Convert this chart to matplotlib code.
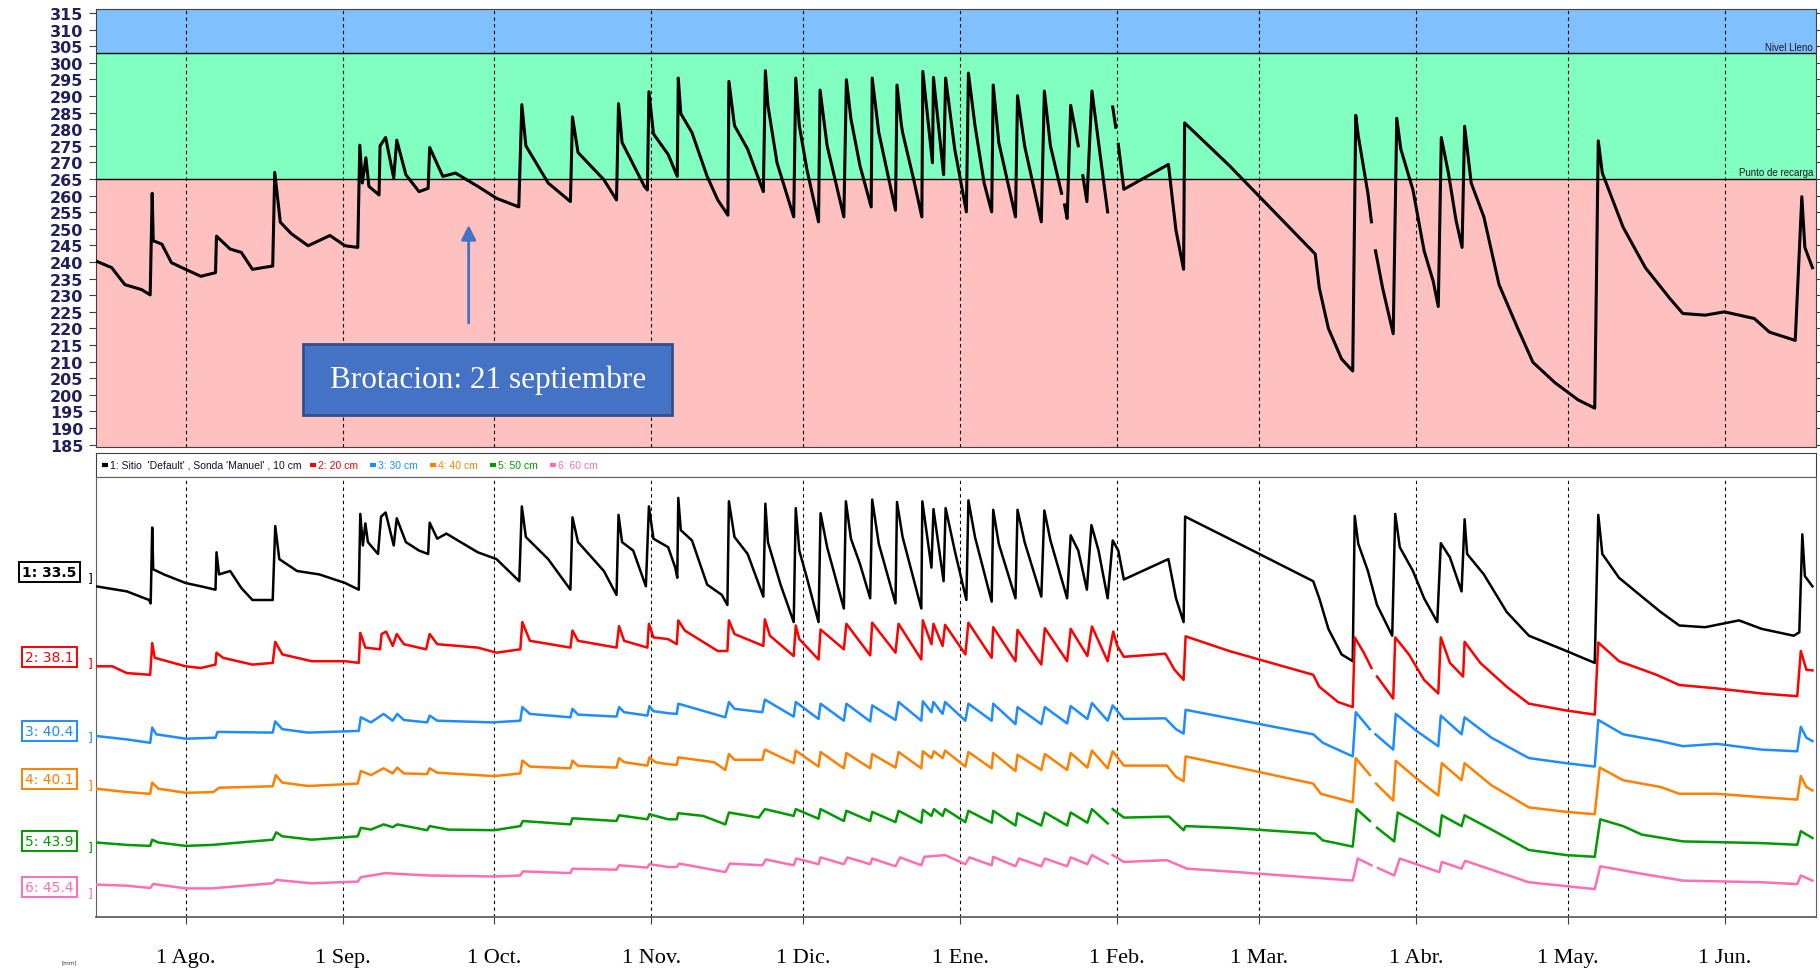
import numpy as np
import matplotlib
matplotlib.use("Agg")
import matplotlib.pyplot as plt
import matplotlib.transforms as mtransforms
from matplotlib.patches import Rectangle

nan = np.nan

# eje x: dias desde el 1 de agosto
MONTH_DAYS = [0, 31, 61, 92, 122, 153, 184, 212, 243, 273, 304]
MONTH_LABELS = ["1 Ago.", "1 Sep.", "1 Oct.", "1 Nov.", "1 Dic.", "1 Ene.",
                "1 Feb.", "1 Mar.", "1 Abr.", "1 May.", "1 Jun."]
X_START, X_END = -17.7, 322.0

# panel superior: suma de sensores
Y_MIN, Y_MAX = 184.3, 316.2
Y_TICKS = list(range(185, 316, 5))
NIVEL_LLENO = 302.8
PUNTO_RECARGA = 265.0

TOP = np.array([
    (-17.7, 240.3), (-14.6, 238.3), (-12, 233.2), (-8.7, 231.7), (-7, 230.1), (-6.6, 260.7),
    (-6.4, 246.4), (-4.7, 245.4), (-2.8, 239.8), (0, 237.8), (3, 235.7), (5.9, 236.8),
    (6.1, 247.8), (8.8, 243.9), (11, 242.9), (13.2, 237.8), (17.2, 238.8), (17.6, 267),
    (18.7, 252), (20.9, 248.5), (24.2, 244.9), (28.5, 248), (31.5, 244.9), (34, 244.4),
    (34.4, 275.2), (34.9, 263.8), (35.6, 271.4), (36.2, 262.8), (38.2, 260.2), (38.4, 275),
    (39.5, 277.5), (41.1, 265.3), (41.7, 276.7), (43.5, 266.3), (46.1, 261.2), (47.9, 262.2),
    (48.2, 274.5), (50.8, 265.8), (53.3, 266.8), (57.7, 262.8), (61.4, 259.2), (65.8, 256.6),
    (66.4, 287.4), (67.2, 275), (71.6, 263.8), (76, 258.2), (76.4, 283.7), (77.5, 273),
    (82.6, 264.8), (85.1, 258.7), (85.5, 287.7), (86.2, 276), (90.6, 262.8), (91.2, 261.7),
    (91.5, 291.3), (92.4, 278.6), (95.3, 272.4), (97.1, 265.8), (97.3, 295.4), (97.8, 284.7),
    (100, 279), (103, 265.8), (105.1, 258.7), (107.1, 254.1), (107.3, 294.4), (108.4, 281.1),
    (111, 274), (114.1, 261.2), (114.5, 297.6), (115, 287.2), (116.8, 269.9), (120.1, 253.6),
    (120.5, 295.4), (121.2, 281.1), (122.7, 267.9), (125, 252.1), (125.3, 291.8), (126.7, 275),
    (130, 253.6), (130.5, 294.9), (131.4, 283.1), (133.2, 268.9), (135.4, 256.6), (135.6, 295.4),
    (136.9, 279), (140.2, 255.6), (140.5, 293.3), (141.3, 282.1), (141.6, 279), (143.8, 264.8),
    (145.4, 253.6), (145.6, 297.4), (147.5, 269.9), (147.7, 295.6), (149.7, 266.3), (150.1, 295.4),
    (151.9, 274), (154.2, 255.1), (154.6, 296.9), (155.9, 281.1), (157.7, 263.8), (159.2, 255.1),
    (159.5, 293.3), (160.6, 276), (163.9, 253.6), (164.3, 290.1), (165.7, 275), (169, 252.1),
    (169.6, 291.5), (170.8, 275), (173, 260.7), (173.3, nan), (173.6, 257.2), (174.1, 253.1),
    (174.8, 287.2), (176.3, 275), (176.8, nan), (177.2, 266), (178, 258.2), (179, 291.5),
    (180.3, 276), (182.1, 255.1), (182.6, nan), (183.1, 286.7), (183.7, 280.6), (183.9, nan),
    (184.2, 275.5), (185.3, 261.9), (194.1, 269.4), (195.6, 249.5), (197.1, 237.8), (197.3, 281.9),
    (206.1, 269.1), (223.1, 242.4), (223.9, 232.2), (225.7, 220), (228.3, 210.8), (230.5, 207.2),
    (231.1, 284.2), (231.6, 278), (233.5, 260.7), (234.2, 252.1), (234.6, nan), (235, 243.4),
    (236.4, 232.2), (238.5, 218.4), (239.2, 283.3), (240, 274), (242.4, 261.7), (244.6, 243.4),
    (246.4, 234.2), (247.4, 226.6), (248, 277.5), (249.4, 266.8), (250.9, 252.6), (252.1, 244.4),
    (252.6, 280.9), (253.9, 263.8), (256.4, 253.6), (259.4, 233.2), (263.1, 220), (266.1, 209.8),
    (270.5, 203.6), (275, 198.5), (278.3, 196), (279, 276.5), (279.8, 266.8), (283.9, 250.5),
    (288.3, 238.3), (293.1, 229.1), (295.7, 224.5), (300.1, 224), (303.9, 225), (309.8, 223),
    (312.8, 218.9), (317.9, 216.4), (319.2, 259.7), (319.8, 244.4), (321.3, 238.3),
])

# panel inferior: cada sonda en su propia escala (alto en pixeles del grafico)
LOW_MAX = 440
SONDA_1 = np.array([
    (-17.7, 330.7), (-11.6, 325.6), (-7.2, 317), (-6.9, 313.6), (-6.6, 389.5), (-6.4, 347.7),
    (-4.3, 342.6), (0, 334), (3, 330.7), (5.9, 327.3), (6.1, 364.7), (6.6, 342.6), (8.8, 346),
    (11, 329), (13.2, 317), (17.2, 317), (17.7, 390.9), (18.5, 357.9), (22, 346), (26.4, 342.6),
    (31.5, 334), (34.2, 327.3), (34.5, 403.1), (35, 371.5), (35.5, 393.6), (36, 374.9), (38, 363),
    (38.6, 400.4), (39.5, 404.5), (41.1, 371.5), (41.7, 398.7), (43.5, 374.9), (46.1, 366.4),
    (47.9, 363), (48.2, 394.3), (49.7, 378.3), (51.5, 383.4), (57.7, 364.7), (61.4, 357.9),
    (65.9, 335.8), (66.4, 410.6), (67.2, 380), (71.6, 357.9), (76, 327.3), (76.4, 399.7),
    (77.5, 374.9), (82.6, 346), (85.1, 322.1), (85.5, 402.1), (86.2, 374.9), (88.4, 366.4),
    (90.9, 330.7), (91.5, 410.6), (92.4, 378.3), (95.3, 369.8), (96.7, 349.4), (97.1, 339.2),
    (97.3, 419.1), (97.8, 386.8), (100, 376.6), (103, 332.4), (105.9, 322.1), (107, 312),
    (107.3, 415.7), (108.4, 380), (111, 363), (114.1, 320.4), (114.5, 413.3), (115, 374.9),
    (117.5, 332.4), (120.1, 294.9), (120.5, 408.9), (121.2, 366.4), (122.7, 339.2), (125, 294.9),
    (125.4, 403.8), (126.7, 369.8), (130, 308.5), (130.4, 415.7), (131.4, 378.3), (133.2, 352.8),
    (135.2, 318.7), (135.6, 417.4), (136.9, 373.2), (140.2, 313.6), (140.5, 415), (141.6, 380),
    (145.3, 308.5), (145.5, 415.7), (147.3, 349.4), (147.7, 407.9), (149.7, 335.8), (150.1, 408.9),
    (151.9, 366.4), (154.2, 317), (154.6, 416.7), (155.9, 380), (159.2, 315.3), (159.5, 407.2),
    (160.6, 373.2), (163.9, 318.7), (164.3, 407.2), (165.7, 374.9), (169, 320.4), (169.6, 406.5),
    (170.8, 376.6), (174.1, 318.7), (174.8, 381.7), (176.3, 366.4), (178, 327.3), (178.9, 391.9),
    (180.3, 366.4), (182.1, 318.7), (183.1, 376.6), (184.2, 366.4), (185.3, 337.5), (194.1, 357.9),
    (195.6, 318.7), (197.1, 294.9), (197.4, 400.4), (206.1, 378.3), (222.7, 335.8), (223.9, 318.7),
    (225.7, 288.1), (228.3, 262.6), (230.5, 255.8), (230.9, 401.1), (231.6, 373.2), (233.5, 346),
    (235.3, 312), (238.3, 281.3), (238.9, 403.1), (239.8, 369.8), (242.4, 346), (244.6, 318.7),
    (247.2, 294.9), (247.9, 373.8), (249.7, 359.6), (252, 325.6), (252.6, 397.7), (253.1, 363),
    (256.4, 342.6), (260.9, 305.1), (265.3, 281.3), (272.7, 266), (278.3, 254.1), (279, 402.1),
    (279.8, 363), (283.1, 339.2), (287.6, 320.4), (291.3, 305.1), (295, 291.5), (300.1, 289.8),
    (306.8, 296.6), (311.3, 288.1), (317.6, 281.3), (318.7, 284.7), (319.3, 382.7), (319.8, 340.9),
    (321.3, 330.7),
])
SONDA_2 = np.array([
    (-17.7, 250.7), (-14.5, 250.7), (-11.6, 243.9), (-7, 242.2), (-6.6, 273.9), (-6.1, 259.2),
    (0, 250.7), (3, 249), (5.9, 252.4), (6.1, 264.3), (7.4, 259.2), (13.2, 252.4), (17.2, 254.1),
    (17.7, 275.2), (19.1, 262.6), (24.9, 255.8), (31.5, 255.8), (34.2, 254.1), (34.5, 284.1),
    (35.5, 269.4), (38.4, 267.7), (38.7, 283), (39.6, 285.4), (40.9, 271.1), (41.7, 283),
    (43.1, 272.8), (47.5, 267.7), (48.2, 283), (49.7, 272.8), (57.7, 269.4), (61.4, 264.3),
    (66.1, 267.7), (66.5, 294.9), (68, 276.2), (76, 269.4), (76.4, 286.4), (77.5, 276.2),
    (85.1, 269.4), (85.6, 290.9), (86.6, 276.2), (91.2, 269.4), (91.5, 293.2), (92.4, 279.6),
    (95.3, 277.9), (97, 272.8), (97.3, 296.6), (98.6, 286.4), (105.1, 266), (107, 266),
    (107.3, 296.6), (108.4, 283), (114.1, 271.1), (114.4, 297.7), (115.4, 281.3), (120.1, 260.9),
    (120.5, 291.5), (121.2, 277.9), (125, 257.5), (125.4, 287.5), (130, 267.7), (130.5, 293.2),
    (135.2, 261.6), (135.6, 294.3), (140.2, 264.3), (140.8, 293.2), (145.3, 257.5), (145.6, 296.6),
    (147.3, 272.8), (147.7, 293.2), (149.5, 271.1), (150, 292.2), (154, 262.6), (154.6, 294.3),
    (159.2, 259.2), (159.5, 289.8), (163.9, 255.8), (164.3, 287.1), (169, 252.4), (169.7, 288.8),
    (174.1, 255.8), (174.8, 288.1), (178.1, 260.9), (179, 290.5), (182.1, 255.8), (183.2, 285.4),
    (184, 271.1), (185.3, 260.2), (193.5, 263.3), (195.3, 247.3), (197.1, 237.1), (197.5, 280.7),
    (206.1, 266), (222.7, 242.2), (223.9, 230.3), (227.6, 215), (230.5, 209.9), (230.9, 279.6),
    (232.7, 264.3), (234.2, 249), (234.7, nan), (235.3, 240.5), (238.5, 218.4), (238.9, 279.6),
    (241.6, 262.6), (244.6, 237.1), (247.4, 223.5), (247.9, 279.6), (249.7, 254.1), (252.3, 240.5),
    (252.6, 275.2), (255.7, 254.1), (260.9, 230.3), (265.3, 213.3), (272.7, 206.5), (278.3, 202.4),
    (279, 274.5), (283.1, 255.8), (290.5, 242.2), (295, 232), (302.4, 228.6), (311.3, 223.5),
    (318.3, 220.8), (319, 266), (320.1, 247.3), (321.3, 246.6),
])
SONDA_3 = np.array([
    (-17.7, 181), (-11.6, 177.6), (-7, 174.2), (-6.6, 189.5), (-5.8, 182.7), (0, 178.3),
    (5.9, 179.3), (6.3, 185.1), (17.2, 184.4), (17.7, 195.6), (19.1, 187.8), (24.2, 184.4),
    (34.2, 186.1), (34.6, 199.7), (36.6, 194.6), (39.1, 203.1), (40.9, 196.3), (41.8, 203.1),
    (43.1, 197), (47.7, 194.6), (48.2, 201.4), (49.7, 196.3), (60.7, 194.6), (66.1, 196.3),
    (66.5, 209.9), (68, 203.1), (76, 199.7), (76.4, 208.2), (77.5, 202.4), (85.1, 200.4),
    (85.6, 209.9), (86.6, 204.8), (91.2, 201.4), (91.6, 210.9), (92.4, 205.8), (95.3, 203.8),
    (97, 203.1), (97.3, 213.3), (100.8, 208.2), (106.6, 199.7), (107.3, 215), (108.4, 208.2),
    (113.9, 204.8), (114.4, 217.4), (120.1, 200.4), (120.5, 215), (125, 198), (125.4, 213.3),
    (130, 196.3), (130.5, 213.3), (135.2, 195.6), (135.6, 211.6), (140.2, 197), (140.8, 215),
    (145.3, 196.3), (145.6, 215.7), (147.3, 204.8), (147.7, 215), (149.5, 203.1), (150, 215),
    (154, 196.3), (154.6, 213.3), (159.2, 196.3), (159.5, 213.3), (163.9, 192.9), (164.3, 209.9),
    (169, 192.9), (169.7, 209.9), (174.1, 193.6), (174.8, 210.9), (178.1, 198), (179, 214),
    (182.1, 196.3), (183.1, 211.6), (185.3, 198), (193.5, 198.7), (195.6, 187.8), (197.1, 183.4),
    (197.5, 207.2), (206.1, 198.8), (222.7, 182.7), (224.6, 174.2), (230.5, 160.6), (231.1, 204.8),
    (233.9, 187.8), (234.5, nan), (235, 182.7), (238.5, 167.4), (239, 203.1), (243.1, 186.1),
    (247.4, 170.8), (247.9, 201.4), (252, 182.7), (252.6, 199.7), (257.9, 179.3), (265.3, 158.9),
    (272.7, 153.8), (278.3, 150.4), (279, 197), (283.9, 182.7), (291.3, 175.9), (295.7, 170.8),
    (302.4, 173.2), (311.3, 167.4), (318.3, 165.7), (319, 190.2), (320.1, 179.3), (321.3, 175.9),
])
SONDA_4 = np.array([
    (-17.7, 128.3), (-11.6, 124.9), (-7, 123.2), (-6.6, 134.4), (-5.4, 128.3), (0, 124.2),
    (5.5, 124.9), (6.6, 129.3), (17.2, 130.7), (17.8, 141.9), (19.1, 134.4), (24.2, 131),
    (34, 133.4), (34.6, 146), (36.6, 141.9), (39.1, 148.7), (40.9, 143.6), (41.8, 149.4),
    (43.1, 143.6), (47.7, 142.9), (48.2, 148.7), (49.7, 144.3), (61, 140.9), (66.1, 143.6),
    (66.5, 156.5), (68, 150.4), (76, 148.7), (76.4, 156.5), (77.5, 151.1), (85.1, 149.4),
    (85.6, 158.9), (86.6, 154.8), (91.2, 151.4), (91.6, 159.6), (92.8, 154.8), (95.3, 152.8),
    (97, 152.1), (97.3, 159.6), (104.4, 154.8), (106.6, 147), (107.3, 163), (108.4, 157.2),
    (113.9, 157.2), (114.4, 167.4), (120.1, 153.8), (120.5, 166.4), (125, 150.4), (125.4, 165),
    (130, 148.7), (130.5, 164), (135.2, 148.7), (135.6, 163), (140.2, 149.4), (140.8, 165),
    (145.3, 148.7), (145.6, 165.7), (147.3, 158.9), (147.8, 165.7), (149.5, 158.9), (150, 166.4),
    (154, 150.4), (154.6, 165), (159.2, 148.7), (159.5, 164), (163.9, 146), (164.3, 162.3),
    (169, 147), (169.7, 163), (174.1, 147), (174.8, 164), (178.1, 149.4), (179, 166.4),
    (182.1, 148.7), (183.1, 165.7), (185.3, 151.4), (193.8, 151.4), (195.6, 140.2), (197.1, 135.8),
    (197.5, 160.6), (206.1, 151.4), (222.7, 133.4), (224.2, 123.2), (230.5, 114.7), (231.1, 158.9),
    (233.9, 141.9), (234.5, nan), (235.1, 133.4), (238.5, 116.4), (239, 156.2), (243.1, 138.5),
    (247.4, 121.5), (248.1, 153.8), (252, 136.8), (252.6, 153.8), (257.9, 131.7), (265.3, 109.6),
    (272.7, 105.1), (278.3, 102.8), (279.3, 149.4), (283.9, 136.8), (291.3, 130), (295, 123.2),
    (302.4, 123.2), (311.3, 119.8), (318.3, 117.4), (319, 140.9), (320.1, 130), (321.3, 126.6),
])
SONDA_5 = np.array([
    (-17.7, 74.5), (-11.6, 72.1), (-7, 71.1), (-6.6, 77.3), (-5.4, 74.5), (0, 71.1), (5.2, 72.1),
    (17.2, 77.3), (17.9, 84.7), (19.1, 80.7), (24.9, 77.3), (34, 80.7), (34.6, 89.2), (36.6, 87.4),
    (39.1, 92.6), (40.9, 89.8), (41.8, 92.6), (47.7, 86.8), (48.2, 90.9), (51.9, 87.4), (61, 86.8),
    (66.1, 90.9), (66.6, 96), (76, 92.6), (76.4, 98.7), (85.1, 96), (85.6, 101.7), (91.2, 97.7),
    (91.6, 102.8), (95.3, 97.7), (97, 97.7), (97.3, 103.8), (102.2, 101.1), (106.6, 92.6),
    (107.3, 104.5), (113.2, 99.4), (114.4, 107.9), (120.1, 101.1), (120.5, 107.9), (125, 98.3),
    (125.4, 107.9), (130, 96), (130.5, 106.2), (135.2, 96), (135.6, 105.1), (140.2, 94.9),
    (140.8, 106.2), (145.3, 94.3), (145.6, 107.2), (147.3, 101.1), (147.8, 107.9), (149.5, 101.1),
    (150, 107.9), (154, 94.9), (154.6, 106.2), (159.2, 94.3), (159.5, 106.2), (163.9, 91.5),
    (164.3, 103.8), (169, 91.5), (169.7, 104.5), (174.1, 91.5), (174.8, 104.5), (178.1, 94.3),
    (179, 107.9), (182.1, 93.6), (182.6, nan), (183.1, 107.9), (185.3, 99.4), (194.2, 100.4),
    (197.1, 86.8), (197.5, 90.9), (206.1, 89.2), (223.1, 83.4), (224.6, 76.6), (230.5, 70.4),
    (231.3, 107.9), (233.9, 96), (234.6, nan), (235.3, 89.2), (238.7, 75.6), (239.4, 104.5),
    (243.1, 94.3), (247.6, 80.7), (248.1, 101.7), (252, 90.9), (252.6, 101.7), (257.9, 87.5),
    (265.3, 67), (272.7, 61.9), (278.3, 60.2), (279.4, 97.7), (283.9, 90.9), (287.6, 82.4),
    (295.7, 75.6), (311.3, 73.9), (318.3, 72.2), (319, 85.8), (321.3, 79),
])
SONDA_6 = np.array([
    (-17.7, 32.4), (-11.6, 31.3), (-7, 29), (-6.4, 33), (0, 28.6), (5.2, 28.6), (17.2, 33.7),
    (17.9, 37.1), (24.9, 33.7), (34, 35.4), (34.6, 39.8), (39.5, 43.9), (41.7, 43.2), (48.2, 41.5),
    (61, 40.5), (66.1, 41.5), (66.6, 45.6), (76, 43.9), (76.4, 48.3), (85.1, 47.3), (85.6, 51.7),
    (91.2, 49.4), (91.6, 52.8), (95.3, 50), (97, 50), (97.5, 53.4), (106.6, 44.9), (107.5, 53.4),
    (113.9, 51.7), (114.6, 57.5), (120.1, 51.7), (120.6, 58.5), (125, 52.8), (125.4, 59.6),
    (130, 52.8), (130.7, 59.6), (135.2, 52.8), (135.6, 58.5), (140.2, 50.7), (141.1, 59.6),
    (145.3, 51.7), (145.9, 60.2), (150, 61.9), (154, 52.8), (154.8, 59.6), (159.2, 51.7),
    (159.5, 60.2), (163.9, 50.7), (164.6, 58.5), (169, 50.7), (169.7, 58.5), (174.1, 50.7),
    (174.8, 59.6), (178.1, 52.8), (179, 61.9), (182.1, 53.4), (182.6, nan), (183.1, 61.9),
    (185.3, 55.1), (193.8, 56.8), (197.8, 48.3), (206.1, 45.5), (230.5, 36.4), (231.5, 58.5),
    (234.2, 51.7), (234.8, nan), (235.5, 49), (238.7, 41.5), (239.8, 58.5), (247.6, 44.9),
    (248.1, 55.1), (252, 48.3), (252.7, 56.2), (265.3, 34.7), (278.3, 27.9), (279.4, 50.7),
    (287.6, 43.2), (295.7, 36.4), (311.3, 34.7), (318.3, 32.9), (319, 41.5), (321.3, 36.4),
])

SONDAS = [SONDA_1, SONDA_2, SONDA_3, SONDA_4, SONDA_5, SONDA_6]
COLORS = ["#000000", "#ff0000", "#1e8cff", "#ff8000", "#009a00", "#ff6eb4"]
LEGEND_TEXT = ["1: Sitio  'Default' , Sonda 'Manuel' , 10 cm", "2: 20 cm", "3: 30 cm",
               "4: 40 cm", "5: 50 cm", "6: 60 cm"]
LEGEND_X = [0.0035, 0.1244, 0.1593, 0.1942, 0.2291, 0.2640]
BOX_TEXT = ["1: 33.5", "2: 38.1", "3: 40.4", "4: 40.1", "5: 43.9", "6: 45.4"]
BOX_LEVEL = [345, 260, 186, 138, 76, 30]

# anotacion de brotacion
BUD_DAY, BUD_FROM, BUD_TO = 55.9, 220.8, 252.0
BUD_BOX = (23.2, 193.8, 72.9, 21.6)  # x, y, ancho, alto en datos
BUD_TEXT = "Brotacion: 21 septiembre"

W, H = 1820, 970
fig = plt.figure(figsize=(W / 100, H / 100), dpi=100)
fig.patch.set_facecolor("white")
ax_top = fig.add_axes([96 / W, 1 - 448 / H, 1720 / W, 438 / H])
ax_leg = fig.add_axes([96 / W, 1 - 478 / H, 1720 / W, 24 / H])
ax_low = fig.add_axes([96 / W, 1 - 918 / H, 1720 / W, 440 / H])

# --- panel superior ---
ax_top.axhspan(NIVEL_LLENO, Y_MAX, color="#80c0ff", zorder=0)
ax_top.axhspan(PUNTO_RECARGA, NIVEL_LLENO, color="#80ffc0", zorder=0)
ax_top.axhspan(Y_MIN, PUNTO_RECARGA, color="#ffc0c0", zorder=0)
ax_top.axhline(NIVEL_LLENO, color="k", lw=1, zorder=1)
ax_top.axhline(PUNTO_RECARGA, color="k", lw=1, zorder=1)
for d in MONTH_DAYS:
    ax_top.axvline(d, color="k", lw=0.8, ls=(0, (3, 3)), zorder=1)
ax_top.plot(TOP[:, 0], TOP[:, 1], color="k", lw=2.2, zorder=3)
ax_top.set_xlim(X_START, X_END)
ax_top.set_ylim(Y_MIN, Y_MAX)
ax_top.set_xticks([])
ax_top.set_yticks(Y_TICKS)
ax_top.set_yticklabels([str(v) for v in Y_TICKS], fontsize=11.5, fontweight="bold",
                       color="#22205a", family="DejaVu Sans")
ax_top.tick_params(axis="y", left=True, right=True, direction="out", length=5,
                   color="#404040", pad=4)
for s in ax_top.spines.values():
    s.set_color("#404040")

ax_top.text(X_END - 0.6, NIVEL_LLENO + 0.5, "Nivel Lleno", ha="right", va="bottom",
            fontsize=7, family="Liberation Sans", color="#1a1a1a", zorder=4)
ax_top.text(X_END - 0.6, PUNTO_RECARGA + 0.5, "Punto de recarga", ha="right", va="bottom",
            fontsize=7, family="Liberation Sans", color="#1a1a1a", zorder=4)

bx, by, bw, bh = BUD_BOX
ax_top.add_patch(Rectangle((bx, by), bw, bh, facecolor="#4472c4", edgecolor="#2f528f",
                           lw=2, zorder=5))
ax_top.text(bx + bw / 2, by + bh / 2, BUD_TEXT, ha="center", va="center", color="white",
            fontsize=22.5, family="Liberation Serif", zorder=6)
ax_top.annotate("", xy=(BUD_DAY, BUD_TO), xytext=(BUD_DAY, BUD_FROM),
                arrowprops=dict(arrowstyle="-|>", color="#4472c4", lw=2, mutation_scale=22),
                zorder=6)

# --- franja de leyenda ---
ax_leg.set_xlim(0, 1)
ax_leg.set_ylim(0, 1)
ax_leg.set_xticks([])
ax_leg.set_yticks([])
for s in ax_leg.spines.values():
    s.set_color("#404040")
for x, txt, c in zip(LEGEND_X, LEGEND_TEXT, COLORS):
    tc = "#101030" if c == "#000000" else c
    ax_leg.plot([x, x + 0.0035], [0.5, 0.5], color=c, lw=3, solid_capstyle="butt")
    ax_leg.text(x + 0.0046, 0.5, txt, color=tc, fontsize=7.5, family="Liberation Sans",
                va="center", ha="left")

# --- panel inferior ---
for d in MONTH_DAYS:
    ax_low.axvline(d, color="k", lw=0.8, ls=(0, (3, 3)), zorder=1)
for data, c in zip(SONDAS, COLORS):
    ax_low.plot(data[:, 0], data[:, 1], color=c, lw=1.8, zorder=3)
ax_low.set_xlim(X_START, X_END)
ax_low.set_ylim(0, LOW_MAX)
ax_low.set_yticks([])
ax_low.set_xticks(MONTH_DAYS)
ax_low.set_xticklabels(MONTH_LABELS, fontsize=16, family="Liberation Serif")
ax_low.tick_params(axis="x", direction="out", length=5, pad=17, color="#404040")
for s in ax_low.spines.values():
    s.set_color("#606060")
ax_low.spines["bottom"].set_linewidth(1.3)

trans = mtransforms.blended_transform_factory(ax_low.transAxes, ax_low.transData)
for txt, lvl, c in zip(BOX_TEXT, BOX_LEVEL, COLORS):
    ax_low.text(-0.027, lvl, txt, transform=trans, ha="center", va="center", color=c,
                fontsize=10, family="DejaVu Sans",
                fontweight="bold" if c == "#000000" else "normal",
                bbox=dict(boxstyle="square,pad=0.25", facecolor="white", edgecolor=c, lw=1.4),
                clip_on=False)
    ax_low.text(-0.0035, lvl - 6, "]", transform=trans, ha="center", va="center", color=c,
                fontsize=9, clip_on=False)

fig.text(62 / W, 1 - 964 / H, "[mm]", fontsize=4, color="#333333")

fig.savefig("out.png", dpi=100, facecolor="white")
